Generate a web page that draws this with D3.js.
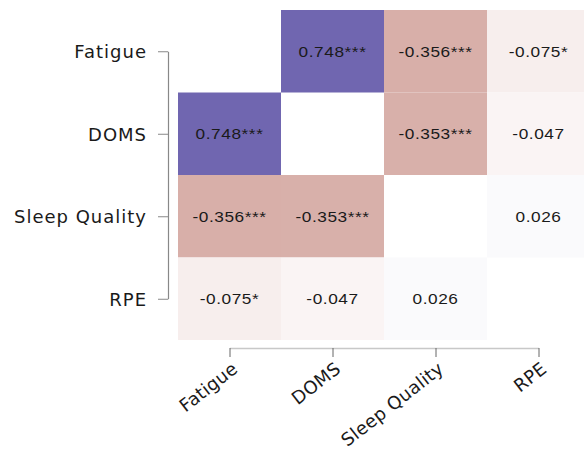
<!DOCTYPE html>
<html>
<head>
<meta charset="utf-8">
<script src="https://cdn.jsdelivr.net/npm/d3@7"></script>
<style>
  body { margin: 0; background: #fff; }
  svg { display: block; }
</style>
</head>
<body>
<svg id="chart" width="584" height="450"></svg>
<script>
// variables of the correlation matrix
const variables = ["Fatigue", "DOMS", "Sleep Quality", "RPE"];
// pearson r, row by row (null on the diagonal)
const rFatigue = [null, 0.748, -0.356, -0.075];
const rDoms = [0.748, null, -0.353, -0.047];
const rSleep = [-0.356, -0.353, null, 0.026];
const rRpe = [-0.075, -0.047, 0.026, null];
// significance flags
const sFatigue = ["", "***", "***", "*"];
const sDoms = ["***", "", "***", ""];
const sSleep = ["***", "***", "", ""];
const sRpe = ["*", "", "", ""];

const rRows = [rFatigue, rDoms, rSleep, rRpe];
const sRows = [sFatigue, sDoms, sSleep, sRpe];

const svg = d3.select("#chart");

// cell grid
const x = d3.scaleBand().domain(variables).range([178, 590]);
const y = d3.scaleBand().domain(variables).range([10, 340]);
const bw = x.bandwidth(), bh = y.bandwidth();

// colour: red-ish for negative, purple for positive, white at 0
const color = d3.scaleLinear()
  .domain([-1, 0, 1])
  .range(["#911e0e", "#ffffff", "#403395"]);

var cells = [];
rRows.forEach((row, i) => {
  row.forEach((r, j) => {
    if (r === null) return;
    cells.push({row: variables[i], col: variables[j], r: r, star: sRows[i][j]});
  });
});

const g = svg.append("g");
g.selectAll("rect")
  .data(cells)
  .enter()
  .append("rect")
  .attr("x", d => x(d.col))
  .attr("y", d => y(d.row))
  .attr("width", bw)
  .attr("height", bh)
  .attr("fill", d => color(d.r));

// cell labels, a bit wider like the original
g.selectAll("text")
  .data(cells)
  .enter()
  .append("text")
  .attr("transform", d => `translate(${x(d.col) + bw / 2},${y(d.row) + bh / 2}) scale(1.15,1)`)
  .attr("dy", "0.36em")
  .attr("text-anchor", "middle")
  .style("font-family", "'Liberation Sans', Arial, sans-serif")
  .style("font-size", "15px")
  .style("letter-spacing", "0.5px")
  .attr("fill", "#1a1a1a")
  .text(d => d.r.toFixed(3) + d.star);

// axes, the line runs from first to last tick
const xAxisScale = d3.scalePoint()
  .domain(variables)
  .range([x(variables[0]) + bw / 2, x(variables[variables.length - 1]) + bw / 2]);
const yAxisScale = d3.scalePoint()
  .domain(variables)
  .range([y(variables[0]) + bh / 2, y(variables[variables.length - 1]) + bh / 2]);

const xAxisG = svg.append("g")
  .attr("transform", "translate(0,348)")
  .call(d3.axisBottom(xAxisScale).tickSize(9).tickSizeOuter(0));
xAxisG.select(".domain").attr("stroke", "#c8c8c8").attr("stroke-width", 1.5);
xAxisG.selectAll(".tick line").attr("stroke", "#666");
xAxisG.selectAll(".tick text")
  .attr("text-anchor", "end")
  .attr("x", 0)
  .attr("y", 0)
  .attr("dy", 0)
  .attr("transform", "translate(9,23) rotate(-38)")
  .style("font-family", "'DejaVu Sans', sans-serif")
  .style("font-size", "18px")
  .style("letter-spacing", "0.3px")
  .attr("fill", "#1a1a1a");

const yAxisG = svg.append("g")
  .attr("transform", "translate(168,0)")
  .call(d3.axisLeft(yAxisScale).tickSize(10).tickPadding(11).tickSizeOuter(0));
yAxisG.select(".domain").attr("stroke", "#888").attr("stroke-width", 1.2);
yAxisG.selectAll(".tick line").attr("stroke", "#888");
yAxisG.selectAll(".tick text")
  .attr("dy", "0.36em")
  .style("font-family", "'DejaVu Sans', sans-serif")
  .style("font-size", "18px")
  .style("letter-spacing", "1px")
  .attr("fill", "#1a1a1a");
</script>
</body>
</html>
